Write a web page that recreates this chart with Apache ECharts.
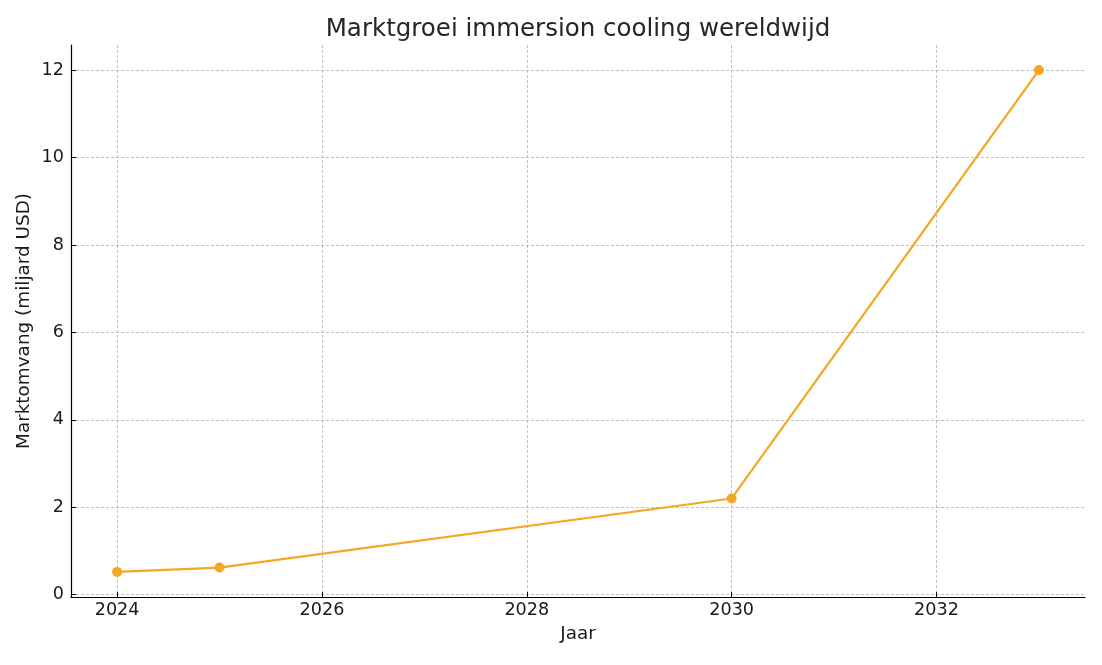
<!DOCTYPE html>
<html><head><meta charset="utf-8">
<script src="https://cdn.jsdelivr.net/npm/echarts@6/dist/echarts.min.js"></script>
<style>html,body{margin:0;padding:0;background:#fff}#c{width:1102px;height:665px}</style>
</head><body><div id="c"></div>
<script>
const years = [2024, 2025, 2030, 2033];
const marketSize = [0.52, 0.62, 2.2, 12];
const xTicks = [2024, 2026, 2028, 2030, 2032];
const yTicks = [0, 2, 4, 6, 8, 10, 12];

const chart = echarts.init(document.getElementById('c'), null, {renderer: 'canvas'});
const font = 'DejaVu Sans';
chart.setOption({
  animation: false,
  backgroundColor: '#fff',
  title: {
    text: 'Marktgroei immersion cooling wereldwijd',
    left: 573, top: 12, textAlign: 'center',
    textStyle: {fontFamily: font, fontSize: 24.5, fontWeight: 'normal', color: '#262626'}
  },
  grid: {left: 71, right: 17, top: 45, bottom: 68, containLabel: false},
  xAxis: {
    type: 'value', min: 2023.55, max: 2033.45,
    name: 'Jaar', nameLocation: 'middle', nameGap: 28,
    nameTextStyle: {fontFamily: font, fontSize: 18.4, color: '#1a1a1a'},
    axisLine: {show: true, onZero: false, lineStyle: {color: '#000', width: 1.2}},
    axisTick: {show: true, inside: true, customValues: xTicks, length: 5, lineStyle: {color: '#000'}},
    axisLabel: {customValues: xTicks, fontFamily: font, fontSize: 17.6, color: '#1a1a1a', margin: 4, formatter: v => String(v)},
    splitLine: {show: true, lineStyle: {color: '#b0b0b0', type: [3, 2], width: 0.8}}
  },
  yAxis: {
    type: 'value', min: -0.054, max: 12.574,
    name: 'Marktomvang (miljard USD)', nameLocation: 'middle', nameGap: 38,
    nameMoveOverlap: false,
    nameTextStyle: {fontFamily: font, fontSize: 18.4, color: '#1a1a1a'},
    axisLine: {show: true, onZero: false, lineStyle: {color: '#000', width: 1.2}},
    axisTick: {show: true, inside: true, customValues: yTicks, length: 5, lineStyle: {color: '#000'}},
    axisLabel: {customValues: yTicks, fontFamily: font, fontSize: 17.6, color: '#1a1a1a', margin: 7},
    splitLine: {show: true, lineStyle: {color: '#b0b0b0', type: [3, 2], width: 0.8}}
  },
  series: [{
    type: 'line',
    data: years.map((y, i) => [y, marketSize[i]]),
    color: '#f5a623',
    lineStyle: {width: 2.2, color: '#f5a623'},
    itemStyle: {color: '#f5a623'},
    symbol: 'circle', symbolSize: 10,
    showSymbol: true
  }]
});
</script></body></html>
